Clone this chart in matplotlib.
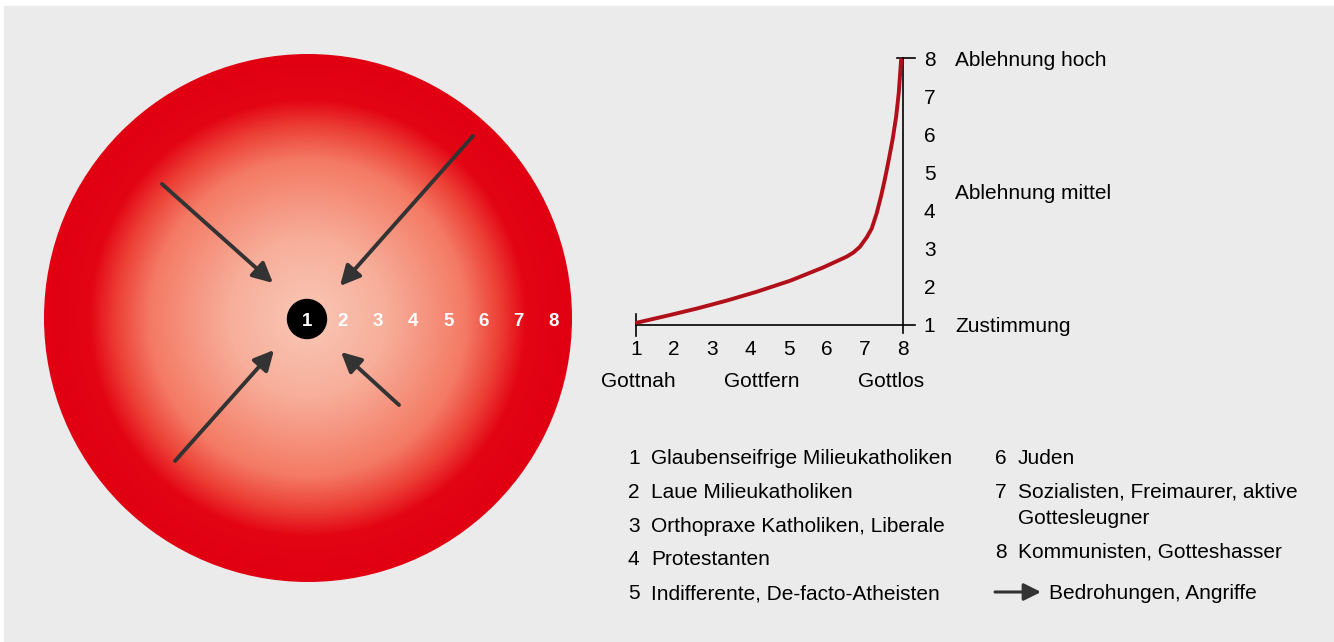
import numpy as np
import matplotlib.pyplot as plt
from matplotlib.patches import Circle, Rectangle

plt.rcParams['font.family'] = ['Liberation Sans', 'DejaVu Sans']

# ── Kurve: Ablehnung (y) über Gottesferne (x) ─────────────────
curve_x = [1.02, 1.80, 2.59, 3.38, 4.16, 5.04, 5.91, 6.52, 6.70, 6.87,
           7.05, 7.18, 7.31, 7.43, 7.53, 7.63, 7.73, 7.82, 7.89, 7.95]
curve_y = [1.06, 1.24, 1.43, 1.64, 1.87, 2.16, 2.51, 2.79, 2.90, 3.05,
           3.30, 3.53, 3.93, 4.40, 4.85, 5.35, 5.88, 6.46, 7.10, 7.95]
x_ticks = [1, 2, 3, 4, 5, 6, 7, 8]
y_ticks = [1, 2, 3, 4, 5, 6, 7, 8]
x_groups = ["Gottnah", "Gottfern", "Gottlos"]
x_group_pos = [1.05, 4.3, 7.7]
y_levels = ["Zustimmung", "Ablehnung mittel", "Ablehnung hoch"]
y_level_pos = [1, 4.5, 8]

# ── Kreis ─────────────────────────────────────────────────────
ring_labels = ["1", "2", "3", "4", "5", "6", "7", "8"]

# ── Legende ───────────────────────────────────────────────────
legend_left = [("1", "Glaubenseifrige Milieukatholiken"),
               ("2", "Laue Milieukatholiken"),
               ("3", "Orthopraxe Katholiken, Liberale"),
               ("4", "Protestanten"),
               ("5", "Indifferente, De-facto-Atheisten")]
legend_right = [("6", "Juden"),
                ("7", "Sozialisten, Freimaurer, aktive\nGottesleugner"),
                ("8", "Kommunisten, Gotteshasser")]
threat_label = "Bedrohungen, Angriffe"

# ══════════════════════════════════════════════════════════════
W, H = 1334, 642
BG = "#ebebeb"
ARROW = "#333333"
FS = 15

fig = plt.figure(figsize=(W / 100, H / 100), dpi=100)
fig.patch.set_facecolor("white")

# pixel canvas for the illustration
cv = fig.add_axes([0, 0, 1, 1])
cv.set_xlim(0, W)
cv.set_ylim(H, 0)
cv.axis("off")
cv.add_patch(Rectangle((4, 6), W, H, color=BG, zorder=0))

# radial gradient disc: pale centre -> salmon -> solid red rim
cx, cy, R = 308, 318, 264
n = 600
g = np.linspace(-1, 1, n)
gx, gy = np.meshgrid(g, g)
t = np.sqrt(gx ** 2 + gy ** 2)
stops = [0.0, 0.3, 0.6, 0.73, 0.83, 1.0]
stop_cols = np.array([(249, 200, 182), (247, 174, 154), (244, 122, 100),
                      (236, 62, 52), (227, 4, 20), (224, 0, 18)]) / 255
img = np.dstack([np.interp(t, stops, stop_cols[:, k]) for k in range(3)])
im = cv.imshow(img, extent=(cx - R, cx + R, cy + R, cy - R),
               interpolation="bilinear", zorder=1)
disc = Circle((cx, cy), R, transform=cv.transData)
im.set_clip_path(disc)
cv.set_xlim(0, W)
cv.set_ylim(H, 0)

# ring numbers
step = 35.3
cv.add_patch(Circle((cx - 1, cy + 1), 19.5, color="black", zorder=3))
for i, lab in enumerate(ring_labels):
    cv.text(cx - 1 + i * step, cy + 8, lab, color="white", fontsize=13.5,
            fontweight="bold", ha="center", va="baseline", zorder=4)

# threat arrows (tail -> tip, pixel coords)
arrows = [((162, 184), (273, 283)),
          ((473, 136), (340, 286)),
          ((175, 461), (274, 350)),
          ((399, 405), (341, 352))]
for tail, tip in arrows:
    cv.annotate("", xy=tip, xytext=tail,
                arrowprops=dict(arrowstyle="-|>", lw=2.8, color=ARROW,
                                mutation_scale=30, shrinkA=0, shrinkB=0),
                zorder=5)

# legend
row0, row_h = 464, 33.8
for i, (num, txt) in enumerate(legend_left):
    y = row0 + i * row_h
    cv.text(628, y, num, fontsize=FS, va="baseline")
    cv.text(651, y, txt, fontsize=FS, va="baseline")

right_rows = [464, 498, 558]
for (num, txt), y in zip(legend_right, right_rows):
    cv.text(995, y, num, fontsize=FS, va="baseline")
    for k, line in enumerate(txt.split("\n")):
        cv.text(1018, y + k * 26, line, fontsize=FS, va="baseline")

cv.annotate("", xy=(1041, 592), xytext=(995, 592),
            arrowprops=dict(arrowstyle="-|>", lw=2.2, color=ARROW,
                            mutation_scale=26, shrinkA=0, shrinkB=0))
cv.text(1049, 599, threat_label, fontsize=FS, va="baseline")

# ── curve chart ───────────────────────────────────────────────
x0, x1, y0, y1 = 636, 903, 325, 58
ax = fig.add_axes([x0 / W, (H - y0) / H, (x1 - x0) / W, (y0 - y1) / H])
ax.set_xlim(1, 8)
ax.set_ylim(1, 8)
ax.patch.set_alpha(0)
for s in ["top", "left"]:
    ax.spines[s].set_visible(False)
for s in ["bottom", "right"]:
    ax.spines[s].set_linewidth(1.2)
ax.plot(curve_x, curve_y, color="#b10f19", lw=2.8, solid_capstyle="round",
        solid_joinstyle="round", clip_on=False, zorder=3)

ax.set_xticks(x_ticks)
ax.set_xticklabels([str(v) for v in x_ticks])
ax.yaxis.tick_right()
ax.set_yticks(y_ticks)
ax.set_yticklabels([str(v) for v in y_ticks])
ax.tick_params(axis="x", length=0, pad=10.5, labelsize=FS)
ax.tick_params(axis="y", length=0, pad=15, labelsize=FS)

# end ticks
kw = dict(color="black", lw=1.2, clip_on=False)
ax.plot([1, 1], [0.72, 1.28], **kw)
ax.plot([8, 8.32], [1, 1], **kw)
ax.plot([7.83, 8.32], [8, 8], **kw)
ax.plot([8, 8], [0.8, 1], **kw)

for lab, xp in zip(x_groups, x_group_pos):
    ax.annotate(lab, xy=(xp, 1), xytext=(0, -44.5), textcoords="offset points",
                ha="center", va="baseline", fontsize=FS, annotation_clip=False)
for lab, yp in zip(y_levels, y_level_pos):
    ax.annotate(lab, xy=(8, yp), xytext=(37.5, -5.4), textcoords="offset points",
                ha="left", va="baseline", fontsize=FS, annotation_clip=False)

fig.savefig("out.png", dpi=100, facecolor=fig.get_facecolor())
